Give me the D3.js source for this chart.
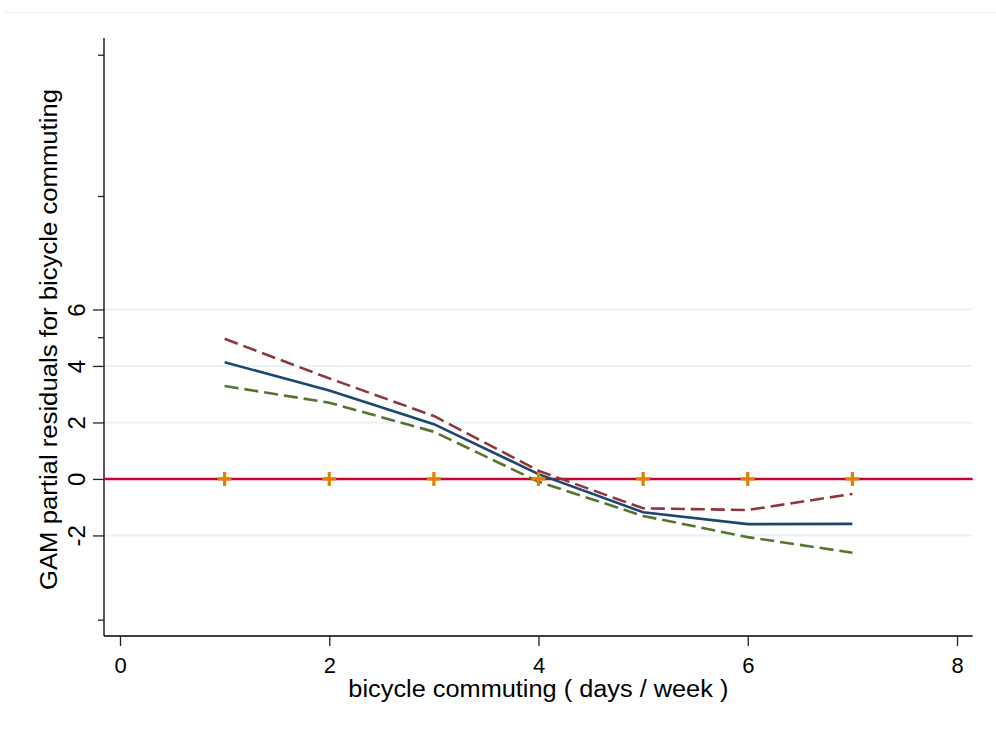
<!DOCTYPE html>
<html>
<head>
<meta charset="utf-8">
<script src="https://cdn.jsdelivr.net/npm/d3@7"></script>
<style>
  body { margin: 0; background: #fff; }
  text { font-family: "Liberation Sans", Arial, sans-serif; fill: #000; }
</style>
</head>
<body>
<div id="chart-area"></div>
<script>
const days = [1, 2, 3, 4, 5, 6, 7]
const fit = [4.13, 3.13, 1.94, 0.17, -1.18, -1.60, -1.59]
const upper = [4.96, 3.56, 2.23, 0.29, -1.04, -1.10, -0.53]
const lower = [3.29, 2.70, 1.67, -0.10, -1.31, -2.06, -2.61]
const residuals = [0, 0, 0, 0, 0, 0, 0]
const xTicks = [0, 2, 4, 6, 8]
const yTicks = [-2, 0, 2, 4, 6]
const yMinorTicks = [-5, 5, 10, 15]

const W = 996, H = 731
const LEFT = 104, RIGHT = 972.7, TOP = 38, BOTTOM = 636
const FONT = '"Liberation Sans", Arial, sans-serif'

const svg = d3.select("#chart-area").append("svg")
  .attr("width", W)
  .attr("height", H)

// faint border line at the top of the graph region
svg.append("line")
  .attr("x1", 3).attr("x2", W)
  .attr("y1", 12.5).attr("y2", 12.5)
  .attr("stroke", "#f0f0f0")
  .attr("stroke-width", 1)

const x = d3.scaleLinear().domain([-0.153, 8.15]).range([LEFT, RIGHT])
const y = d3.scaleLinear().domain([-5.56, 15.61]).range([BOTTOM, TOP])

// gridlines
svg.append("g")
  .selectAll("line")
  .data(yTicks)
  .enter().append("line")
  .attr("x1", LEFT).attr("x2", RIGHT)
  .attr("y1", d => y(d)).attr("y2", d => y(d))
  .attr("stroke", "#eaf2f3")
  .attr("stroke-width", 2)

// y axis
const yAxis = svg.append("g")
  .attr("transform", `translate(${LEFT},0)`)
  .call(d3.axisLeft(y).tickValues(yTicks).tickSize(11).tickPadding(0).tickFormat(d => String(d)))
yAxis.select(".domain").attr("d", `M0,${TOP}V${BOTTOM}`).attr("stroke", "#000").attr("stroke-width", 1.3)
yAxis.selectAll(".tick line").attr("stroke", "#222").attr("stroke-width", 1.3)
yAxis.selectAll(".tick text")
  .attr("x", 0).attr("y", 0).attr("dy", 0)
  .attr("transform", "translate(-19,0) rotate(-90)")
  .attr("text-anchor", "middle")
  .style("font-size", "24px")
  .style("font-family", FONT)

// minor y ticks (unlabelled)
svg.append("g")
  .selectAll("line")
  .data(yMinorTicks)
  .enter().append("line")
  .attr("x1", LEFT - 6).attr("x2", LEFT)
  .attr("y1", d => y(d)).attr("y2", d => y(d))
  .attr("stroke", "#222")
  .attr("stroke-width", 1.3)

// x axis
const xAxis = svg.append("g")
  .attr("transform", `translate(0,${BOTTOM})`)
  .call(d3.axisBottom(x).tickValues(xTicks).tickSize(10).tickPadding(5).tickFormat(d => String(d)))
xAxis.select(".domain").attr("d", `M${LEFT},0H${RIGHT}`).attr("stroke", "#000").attr("stroke-width", 1.3)
xAxis.selectAll(".tick line").attr("stroke", "#222").attr("stroke-width", 1.3)
xAxis.selectAll(".tick text")
  .attr("y", 0).attr("dy", 0)
  .attr("transform", "translate(0,37)")
  .style("font-size", "22px")
  .style("font-family", FONT)

// axis titles
svg.append("text")
  .attr("x", (LEFT + RIGHT) / 2)
  .attr("y", 697)
  .attr("text-anchor", "middle")
  .attr("textLength", 380)
  .attr("lengthAdjust", "spacingAndGlyphs")
  .style("font-size", "23px")
  .text("bicycle commuting ( days / week )")

svg.append("text")
  .attr("transform", `translate(57,${(89 + 590) / 2}) rotate(-90)`)
  .attr("text-anchor", "middle")
  .attr("textLength", 501)
  .attr("lengthAdjust", "spacingAndGlyphs")
  .style("font-size", "23px")
  .text("GAM partial residuals for bicycle commuting")

// reference line at zero
svg.append("line")
  .attr("x1", LEFT).attr("x2", RIGHT)
  .attr("y1", y(0)).attr("y2", y(0))
  .attr("stroke", "#c10534")
  .attr("stroke-width", 2.6)

const line = vals => d3.line()
  .x((d, i) => x(days[i]))
  .y(d => y(d))(vals)

svg.append("path")
  .attr("d", line(upper))
  .attr("fill", "none")
  .attr("stroke", "#90353b")
  .attr("stroke-width", 2.6)
  .attr("stroke-dasharray", "14,6")

svg.append("path")
  .attr("d", line(lower))
  .attr("fill", "none")
  .attr("stroke", "#55752f")
  .attr("stroke-width", 2.6)
  .attr("stroke-dasharray", "14,6")

svg.append("path")
  .attr("d", line(fit))
  .attr("fill", "none")
  .attr("stroke", "#1a476f")
  .attr("stroke-width", 2.6)

// partial residual markers (plus signs)
svg.append("g")
  .selectAll("path")
  .data(residuals)
  .enter().append("path")
  .attr("d", (d, i) => `M${x(days[i]) - 7},${y(d)}h14M${x(days[i])},${y(d) - 7}v14`)
  .attr("stroke", "#e37e00")
  .attr("stroke-width", 3.2)
  .attr("fill", "none")
</script>
</body>
</html>
